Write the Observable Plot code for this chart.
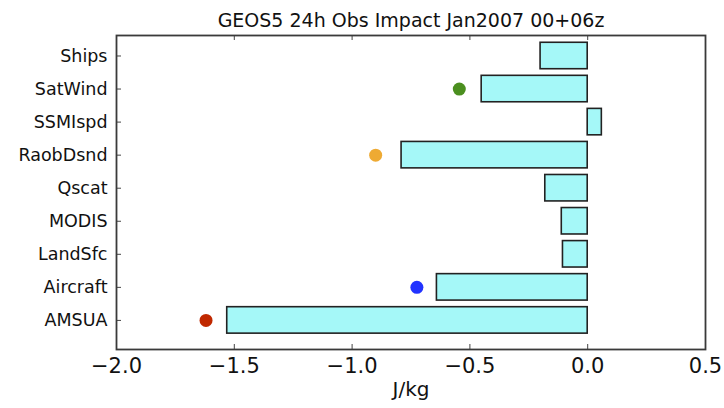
<!DOCTYPE html>
<html>
<head>
<meta charset="utf-8">
<script src="https://cdn.jsdelivr.net/npm/d3@7"></script>
<script src="https://cdn.jsdelivr.net/npm/@observablehq/plot@0.6"></script>
<style>
  html, body { margin: 0; padding: 0; background: #fff; }
  svg { display: block; }
</style>
</head>
<body>
<div id="chart"></div>
<script>
// Categories from bottom to top
const categories = ["AMSUA", "Aircraft", "LandSfc", "MODIS", "Qscat", "RaobDsnd", "SSMIspd", "SatWind", "Ships"];
const impacts    = [-1.53, -0.64, -0.105, -0.11, -0.18, -0.79, 0.06, -0.45, -0.20];

// Reference dots
const dotCategories = ["AMSUA", "Aircraft", "RaobDsnd", "SatWind"];
const dotValues     = [-1.62, -0.725, -0.90, -0.545];
const dotColors     = ["#c02800", "#2233ff", "#eeaa33", "#4b8f1f"];

const xTicks = [-2.0, -1.5, -1.0, -0.5, 0.0, 0.5];
const titleText = "GEOS5 24h Obs Impact Jan2007 00+06z";
const xLabel = "J/kg";

const bars = categories.map((c, i) => ({cat: c, i, v: impacts[i]}));
const dots = dotCategories.map((c, k) => ({cat: c, i: categories.indexOf(c), v: dotValues[k], color: dotColors[k]}));

const W = 724, H = 408;
const mL = 116, mR = 19, mT = 35, mB = 59;
const frameW = W - mL - mR, frameH = H - mT - mB;
const fmt = d3.format(".1f");
const font = "DejaVu Sans, Verdana, sans-serif";

const chart = Plot.plot({
  width: W,
  height: H,
  marginLeft: mL,
  marginRight: mR,
  marginTop: mT,
  marginBottom: mB,
  style: {fontFamily: font, background: "#fff", color: "#222"},
  x: {domain: [-2.0, 0.5]},
  y: {domain: [-0.88, 8.62]},
  marks: [
    Plot.rect(bars, {
      x1: 0, x2: "v",
      y1: d => d.i - 0.4, y2: d => d.i + 0.4,
      fill: "#a5f8f8", stroke: "#222", strokeWidth: 1.6
    }),
    Plot.dot(dots, {x: "v", y: "i", r: 6.5, fill: "color", stroke: "none"}),
    // inward ticks
    Plot.ruleX(xTicks, {x: d => d, insetTop: frameH - 5, stroke: "#444", strokeWidth: 1}),
    Plot.ruleX(xTicks, {x: d => d, insetBottom: frameH - 5, stroke: "#444", strokeWidth: 1}),
    Plot.ruleY(d3.range(categories.length), {y: d => d, insetRight: frameW - 5, stroke: "#444", strokeWidth: 1}),
    Plot.frame({stroke: "#3a3a3a", strokeWidth: 1.8}),
    Plot.axisX({
      ticks: xTicks, tickSize: 0, tickPadding: 9, tickFormat: d => fmt(d),
      fontSize: 21, label: null, fill: "#111"
    }),
    Plot.axisY({
      ticks: d3.range(categories.length), tickSize: 0, tickPadding: 9,
      tickFormat: i => categories[i], fontSize: 17.5, label: null, fill: "#111"
    }),
    Plot.text([xLabel], {
      frameAnchor: "bottom", dy: 46, text: d => d, fontSize: 20, fill: "#111"
    }),
    Plot.text([titleText], {
      frameAnchor: "top", dy: -22, text: d => d, fontSize: 19, fill: "#111"
    })
  ]
});

document.getElementById("chart").appendChild(chart);
</script>
</body>
</html>
